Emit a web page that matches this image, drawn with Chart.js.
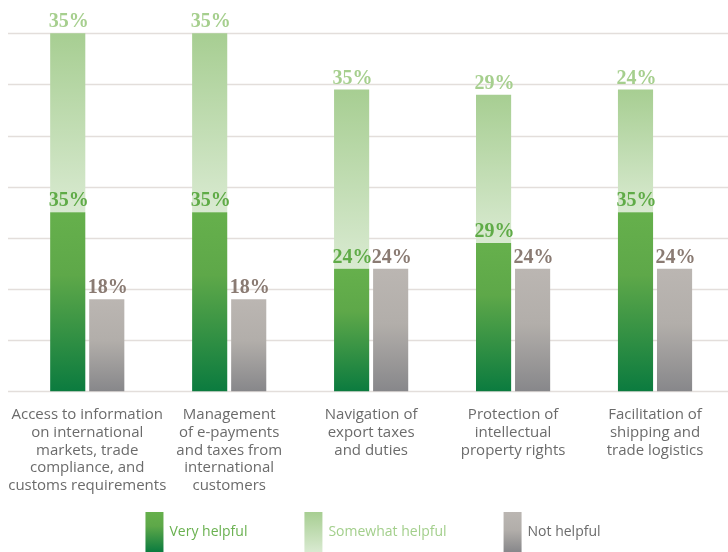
<!DOCTYPE html>
<html>
<head>
<meta charset="utf-8">
<script src="https://cdn.jsdelivr.net/npm/chart.js@4.4.1/dist/chart.umd.min.js"></script>
<style>
  html, body { margin: 0; padding: 0; background: #fff; }
  #wrap { width: 728px; height: 552px; position: relative; }
</style>
</head>
<body>
<div id="wrap"><canvas id="myChart"></canvas></div>
<script>
const categories = [
  ['Access to information', 'on international', 'markets, trade', 'compliance, and', 'customs requirements'],
  ['Management', 'of e-payments', 'and taxes from', 'international', 'customers'],
  ['Navigation of', 'export taxes', 'and duties'],
  ['Protection of', 'intellectual', 'property rights'],
  ['Facilitation of', 'shipping and', 'trade logistics']
];
const veryHelpful = [35, 35, 24, 29, 35];
const somewhatHelpful = [35, 35, 35, 29, 24];
const notHelpful = [18, 18, 24, 24, 24];
const gridValues = [0, 10, 20, 30, 40, 50, 60, 70];

// gradient from the top of a bar down to its base, built from the y scale
function barFill(stops, range) {
  return (c) => {
    const chart = c.chart;
    if (!chart.chartArea || c.type !== 'data') return stops[0][1];
    const y = chart.scales.y;
    const [lo, hi] = range(c.dataIndex);
    const g = chart.ctx.createLinearGradient(0, y.getPixelForValue(hi), 0, y.getPixelForValue(lo));
    stops.forEach(s => g.addColorStop(s[0], s[1]));
    return g;
  };
}

const greenStops = [[0, '#66b04c'], [0.35, '#5ea849'], [1, '#0b7b3f']];
const lightStops = [[0, '#a7ce92'], [1, '#d9ead1']];
const greyStops = [[0, '#bbb6b2'], [0.45, '#b2aeaa'], [1, '#87878a']];

const gridPlugin = {
  id: 'grid',
  beforeDatasetsDraw(chart) {
    const ctx = chart.ctx, y = chart.scales.y;
    ctx.save();
    ctx.strokeStyle = '#e3dedb';
    ctx.lineWidth = 1.5;
    gridValues.forEach(v => {
      const py = Math.round(y.getPixelForValue(v)) + 0.5;
      ctx.beginPath();
      ctx.moveTo(8, py);
      ctx.lineTo(chart.width, py);
      ctx.stroke();
    });
    ctx.restore();
  }
};

const labelPlugin = {
  id: 'valueLabels',
  afterDatasetsDraw(chart) {
    const ctx = chart.ctx;
    ctx.save();
    ctx.font = 'bold 20px "Liberation Serif"';
    ctx.textAlign = 'center';
    ctx.textBaseline = 'alphabetic';
    chart.data.datasets.forEach((ds, di) => {
      chart.getDatasetMeta(di).data.forEach((bar, i) => {
        ctx.fillStyle = ds.labelColor;
        ctx.fillText(ds.data[i] + '%', bar.x + 1, bar.y - 6);
      });
    });
    ctx.restore();
  }
};

const legendPlugin = {
  id: 'boxLegend',
  afterDraw(chart) {
    const ctx = chart.ctx;
    const sets = chart.data.datasets;
    ctx.save();
    ctx.font = '14px "Open Sans"';
    ctx.textBaseline = 'middle';
    const boxW = 18, boxH = 40, gap = 57, txtGap = 6;
    const widths = sets.map(ds => boxW + txtGap + ctx.measureText(ds.label).width);
    const total = widths.reduce((a, b) => a + b, 0) + gap * (sets.length - 1);
    let x = chart.width / 2 + 9 - total / 2;
    const top = 512;
    sets.forEach((ds, i) => {
      const g = ctx.createLinearGradient(0, top, 0, top + boxH);
      ds.stops.forEach(s => g.addColorStop(s[0], s[1]));
      ctx.fillStyle = g;
      ctx.fillRect(x, top, boxW, boxH);
      ctx.fillStyle = ds.legendColor;
      ctx.fillText(ds.label, x + boxW + txtGap, top + 20);
      x += widths[i] + gap;
    });
    ctx.restore();
  }
};

new Chart(document.getElementById('myChart'), {
  type: 'bar',
  data: {
    labels: categories,
    datasets: [
      {
        label: 'Very helpful',
        data: veryHelpful,
        stack: 'helpful',
        stops: greenStops,
        labelColor: '#5fab47',
        legendColor: '#6ab150',
        backgroundColor: barFill(greenStops, i => [0, veryHelpful[i]])
      },
      {
        label: 'Somewhat helpful',
        data: somewhatHelpful,
        stack: 'helpful',
        stops: lightStops,
        labelColor: '#a6cf8e',
        legendColor: '#a3cf8c',
        backgroundColor: barFill(lightStops, i => [veryHelpful[i], veryHelpful[i] + somewhatHelpful[i]])
      },
      {
        label: 'Not helpful',
        data: notHelpful,
        stack: 'not',
        stops: greyStops,
        labelColor: '#8a7b73',
        legendColor: '#6b6b6b',
        backgroundColor: barFill(greyStops, i => [0, notHelpful[i]])
      }
    ]
  },
  options: {
    responsive: true,
    maintainAspectRatio: false,
    animation: false,
    categoryPercentage: 0.55,
    barPercentage: 0.9,
    layout: { padding: { left: 12, right: 2, top: 0, bottom: 51 } },
    plugins: {
      legend: { display: false },
      tooltip: { enabled: false }
    },
    scales: {
      x: {
        stacked: true,
        grid: { display: false },
        border: { display: false },
        ticks: {
          color: '#6b6b6b',
          font: { family: '"Open Sans"', size: 15, lineHeight: 1.167 },
          padding: 7,
          maxRotation: 0,
          autoSkip: false
        }
      },
      y: {
        stacked: true,
        display: false,
        min: 0,
        max: 76.5
      }
    }
  },
  plugins: [gridPlugin, labelPlugin, legendPlugin]
});
</script>
</body>
</html>
